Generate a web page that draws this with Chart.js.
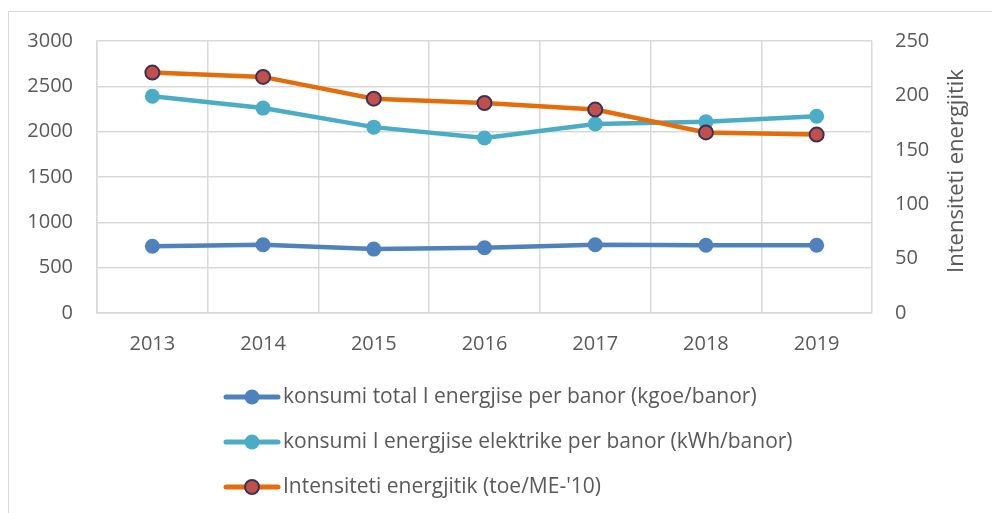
<!DOCTYPE html>
<html>
<head>
<meta charset="utf-8">
<script src="https://cdn.jsdelivr.net/npm/chart.js@4.4.1/dist/chart.umd.min.js"></script>
<style>
  html, body { margin: 0; padding: 0; background: #fff; }
</style>
</head>
<body>
<canvas id="grafiku" width="992" height="513"></canvas>
<script>
// vitet dhe vlerat, lexuar nga grafiku
var vitet = ['2013', '2014', '2015', '2016', '2017', '2018', '2019'];
var konsumiTotal = [737, 752, 705, 720, 752, 748, 748];          // kgoe/banor
var konsumiElektrik = [2390, 2260, 2050, 1930, 2085, 2110, 2170]; // kWh/banor
var intensiteti = [221, 217, 197, 193, 187, 166, 164];           // toe/ME-'10

var boshtiMajtas = { min: 0, max: 3000, hapi: 500 };
var boshtiDjathtas = { min: 0, max: 250, hapi: 50 };
var titulliDjathtas = 'Intensiteti energjitik';

var ngjyraTekstit = '#595959';
var ngjyraRrjetit = '#d9d9d9';
var fonti = '"Open Sans", sans-serif';

// legjenda poshte, nje rresht per seri
var legjenda = {
  id: 'legjenda',
  beforeDraw: function (chart) {
    var ctx = chart.ctx;
    ctx.save();
    ctx.strokeStyle = ngjyraRrjetit;
    ctx.lineWidth = 1;
    ctx.strokeRect(8.5, 11.5, 1200, 700);
    ctx.restore();
  },
  afterDraw: function (chart) {
    var ctx = chart.ctx;
    var rreshtat = [397, 442, 487];
    chart.data.datasets.forEach(function (ds, i) {
      var y = rreshtat[i];
      ctx.save();
      ctx.strokeStyle = ds.borderColor;
      ctx.lineWidth = 5;
      ctx.lineCap = 'round';
      ctx.beginPath();
      ctx.moveTo(226, y);
      ctx.lineTo(278, y);
      ctx.stroke();
      ctx.beginPath();
      ctx.arc(252, y, ds.pointRadius, 0, Math.PI * 2);
      ctx.fillStyle = ds.pointBackgroundColor;
      ctx.fill();
      if (ds.pointBorderWidth) {
        ctx.lineWidth = ds.pointBorderWidth;
        ctx.strokeStyle = ds.pointBorderColor;
        ctx.stroke();
      }
      ctx.fillStyle = ngjyraTekstit;
      ctx.font = '21px ' + fonti;
      ctx.textBaseline = 'middle';
      ctx.fillText(ds.label, 283, y);
      ctx.restore();
    });

    // titulli i boshtit te djathte, lexohet nga poshte lart
    ctx.save();
    ctx.translate(957, 171);
    ctx.rotate(-Math.PI / 2);
    ctx.fillStyle = ngjyraTekstit;
    ctx.font = '22px ' + fonti;
    ctx.textAlign = 'center';
    ctx.textBaseline = 'middle';
    ctx.fillText(titulliDjathtas, 0, 0);
    ctx.restore();
  }
};

function paPresje(v) { return String(v); }

new Chart(document.getElementById('grafiku').getContext('2d'), {
  type: 'line',
  data: {
    labels: vitet,
    datasets: [{
      label: 'konsumi total I energjise per banor (kgoe/banor)',
      data: konsumiTotal,
      yAxisID: 'y',
      borderColor: '#4f81bd',
      backgroundColor: '#4f81bd',
      pointBackgroundColor: '#4f81bd',
      pointBorderColor: '#4f81bd',
      pointBorderWidth: 0,
      pointRadius: 7.5,
      borderWidth: 4.5,
      order: 2
    }, {
      label: 'konsumi I energjise elektrike per banor (kWh/banor)',
      data: konsumiElektrik,
      yAxisID: 'y',
      borderColor: '#4bacc6',
      backgroundColor: '#4bacc6',
      pointBackgroundColor: '#4bacc6',
      pointBorderColor: '#4bacc6',
      pointBorderWidth: 0,
      pointRadius: 7.5,
      borderWidth: 4.5,
      order: 1
    }, {
      label: "Intensiteti energjitik (toe/ME-'10)",
      data: intensiteti,
      yAxisID: 'y1',
      borderColor: '#e46c0a',
      backgroundColor: '#e46c0a',
      pointBackgroundColor: '#c0504d',
      pointBorderColor: '#403152',
      pointBorderWidth: 2,
      pointRadius: 7,
      borderWidth: 4.5,
      order: 0
    }]
  },
  options: {
    responsive: false,
    animation: false,
    devicePixelRatio: 1,
    layout: { padding: { left: 0, right: 0, top: 41, bottom: 160 } },
    plugins: {
      legend: { display: false },
      tooltip: { enabled: false }
    },
    elements: { line: { tension: 0 } },
    scales: {
      x: {
        offset: true,
        grid: { offset: true, color: ngjyraRrjetit, lineWidth: 1.5, drawTicks: false },
        border: { color: ngjyraRrjetit, width: 1.5 },
        ticks: { color: ngjyraTekstit, font: { family: fonti, size: 20 }, padding: 19, maxRotation: 0 },
        afterFit: function (s) { s.height = 40; }
      },
      y: {
        position: 'left',
        min: boshtiMajtas.min,
        max: boshtiMajtas.max,
        grid: { color: ngjyraRrjetit, lineWidth: 1.5, drawTicks: false },
        border: { color: ngjyraRrjetit, width: 1.5 },
        ticks: { stepSize: boshtiMajtas.hapi, color: ngjyraTekstit, font: { family: fonti, size: 20 }, padding: 24, callback: paPresje },
        afterFit: function (s) { s.width = 97; }
      },
      y1: {
        position: 'right',
        min: boshtiDjathtas.min,
        max: boshtiDjathtas.max,
        grid: { display: false, drawTicks: false },
        border: { display: false },
        ticks: { stepSize: boshtiDjathtas.hapi, color: ngjyraTekstit, font: { family: fonti, size: 20 }, padding: 23, callback: paPresje },
        afterFit: function (s) { s.width = 120; }
      }
    }
  },
  plugins: [legjenda]
});
</script>
</body>
</html>
